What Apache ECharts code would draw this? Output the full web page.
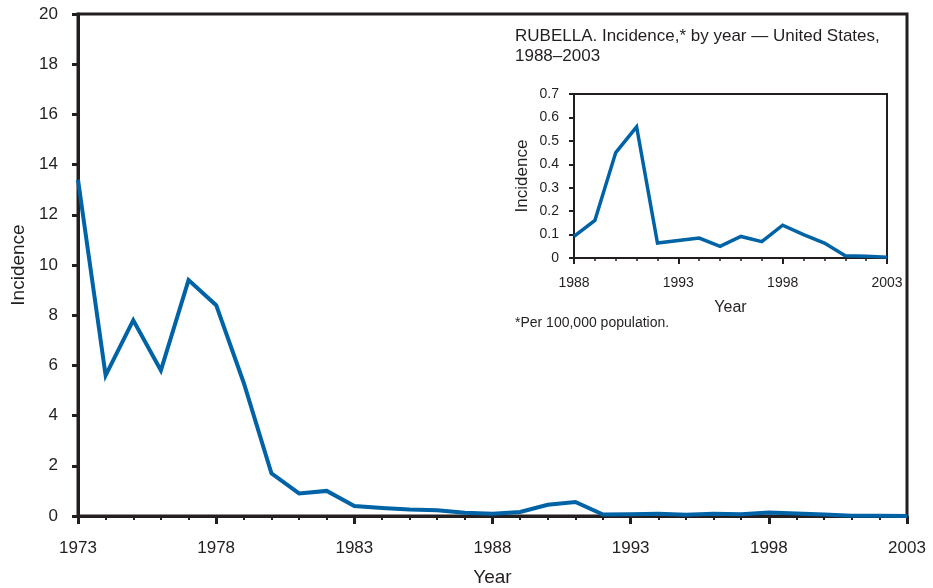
<!DOCTYPE html>
<html><head><meta charset="utf-8">
<script src="https://cdn.jsdelivr.net/npm/echarts@6/dist/echarts.min.js"></script>
<style>html,body{margin:0;padding:0;background:#fff}#c{width:933px;height:588px}</style>
</head><body><div id="c"></div>
<script>
var mainYears = [];
for (var y = 1973; y <= 2003; y++) mainYears.push(String(y));
var mainValues = [13.4, 5.6, 7.8, 5.8, 9.4, 8.4, 5.3, 1.7, 0.9, 1.0, 0.4, 0.32, 0.26, 0.23, 0.13, 0.09, 0.16, 0.45, 0.56, 0.06, 0.07, 0.09, 0.05, 0.09, 0.07, 0.14, 0.10, 0.06, 0.01, 0.01, 0.003];
var insetYears = mainYears.slice(15);
var insetValues = [0.092, 0.16, 0.45, 0.56, 0.064, 0.075, 0.085, 0.05, 0.092, 0.07, 0.14, 0.10, 0.064, 0.01, 0.008, 0.003];
var titleLines = ['RUBELLA. Incidence,* by year \u2014 United States,', '1988\u20132003'];
var footnote = '*Per 100,000 population.';

var FONT = '"Liberation Sans", Arial, Helvetica, sans-serif';
var INK = '#231f20';
var BLUE = '#0063a6';

var chart = echarts.init(document.getElementById('c'), null, {renderer: 'canvas'});
chart.setOption({
  animation: false,
  backgroundColor: '#fff',
  textStyle: {fontFamily: FONT, color: INK},
  grid: [
    {left: 78, right: 26, top: 14, bottom: 72, show: true, borderColor: INK, borderWidth: 3, containLabel: false, outerBoundsMode: 'none'},
    {left: 574, right: 46, top: 94, bottom: 330, show: true, borderColor: INK, borderWidth: 2, containLabel: false, outerBoundsMode: 'none'}
  ],
  xAxis: [
    {gridIndex: 0, type: 'category', data: mainYears, boundaryGap: false, position: 'bottom',
     name: 'Year', nameLocation: 'middle', nameGap: 52,
     nameTextStyle: {fontSize: 19, color: INK, fontFamily: FONT},
     axisLine: {lineStyle: {color: INK, width: 3}},
     axisTick: {interval: 0, length: 4, lineStyle: {color: INK, width: 2}},
     axisLabel: {interval: 4, fontSize: 17, color: INK, margin: 24, fontFamily: FONT}},
    {gridIndex: 0, type: 'category', data: mainYears, boundaryGap: false, position: 'bottom', offset: 0,
     axisLine: {show: false},
     axisTick: {interval: 4, length: 8, lineStyle: {color: INK, width: 3}},
     axisLabel: {show: false}},
    {gridIndex: 1, type: 'category', data: insetYears, boundaryGap: false, position: 'bottom',
     name: 'Year', nameLocation: 'middle', nameGap: 42,
     nameTextStyle: {fontSize: 16, color: INK, fontFamily: FONT},
     axisLine: {lineStyle: {color: INK, width: 2}},
     axisTick: {interval: 0, length: 3, lineStyle: {color: INK, width: 1.5}},
     axisLabel: {interval: 4, fontSize: 14, color: INK, margin: 18, fontFamily: FONT}},
    {gridIndex: 1, type: 'category', data: insetYears, boundaryGap: false, position: 'bottom', offset: 0,
     axisLine: {show: false},
     axisTick: {interval: 4, length: 6, lineStyle: {color: INK, width: 2}},
     axisLabel: {show: false}}
  ],
  yAxis: [
    {gridIndex: 0, type: 'value', min: 0, max: 20, interval: 2,
     name: 'Incidence', nameLocation: 'middle', nameGap: 49,
     nameTextStyle: {fontSize: 19, color: INK, fontFamily: FONT},
     axisLine: {show: true, lineStyle: {color: INK, width: 3}},
     axisTick: {show: true, length: 6, lineStyle: {color: INK, width: 3}},
     axisLabel: {fontSize: 17, color: INK, margin: 20, fontFamily: FONT},
     splitLine: {show: false}},
    {gridIndex: 1, type: 'value', min: 0, max: 0.7, interval: 0.1,
     name: 'Incidence', nameLocation: 'middle', nameGap: 43,
     nameTextStyle: {fontSize: 17, color: INK, fontFamily: FONT},
     axisLine: {show: true, lineStyle: {color: INK, width: 2}},
     axisTick: {show: true, length: 5, lineStyle: {color: INK, width: 2}},
     axisLabel: {fontSize: 14, color: INK, margin: 15, fontFamily: FONT,
       formatter: function (v) { return v === 0 ? '0' : v.toFixed(1); }},
     splitLine: {show: false}}
  ],
  series: [
    {type: 'line', xAxisIndex: 0, yAxisIndex: 0, data: mainValues, symbol: 'none',
     lineStyle: {color: BLUE, width: 4, join: 'miter'}, clip: false},
    {type: 'line', xAxisIndex: 2, yAxisIndex: 1, data: insetValues, symbol: 'none',
     lineStyle: {color: BLUE, width: 3.5, join: 'miter'}, clip: false}
  ],
  graphic: [
    {type: 'text', left: 515, top: 26, style: {text: titleLines.join('\n'), fontSize: 17, lineHeight: 20, fill: INK, fontFamily: FONT}},
    {type: 'text', left: 515, top: 316, style: {text: footnote, fontSize: 14, fill: INK, fontFamily: FONT}}
  ]
});
</script></body></html>
